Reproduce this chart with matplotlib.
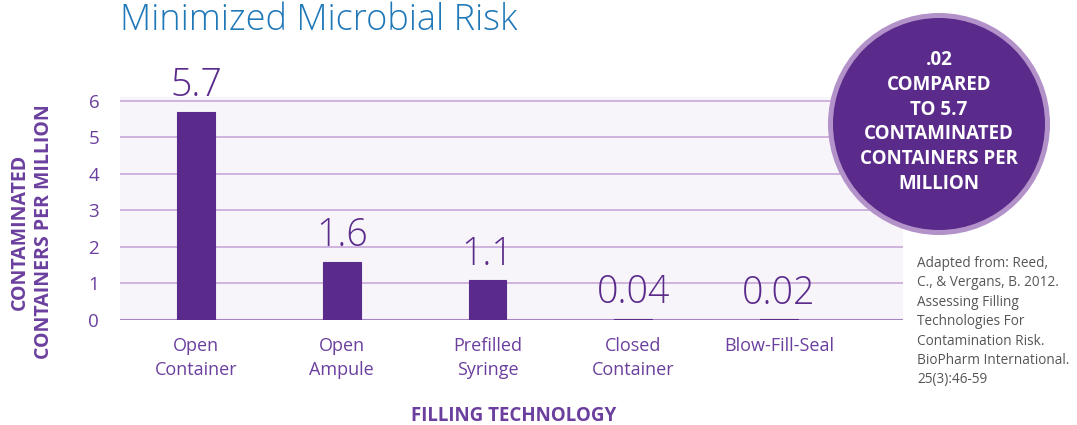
import matplotlib
matplotlib.use("Agg")
import matplotlib.pyplot as plt
from matplotlib.patches import Ellipse

categories = ["Open\nContainer", "Open\nAmpule", "Prefilled\nSyringe", "Closed\nContainer", "Blow-Fill-Seal"]
values = [5.7, 1.6, 1.1, 0.04, 0.02]
value_labels = ["5.7", "1.6", "1.1", "0.04", "0.02"]
yticks = [0, 1, 2, 3, 4, 5, 6]

W, H = 1077, 425
fig = plt.figure(figsize=(W / 100, H / 100), dpi=100)
plt.rcParams['font.family'] = ['Open Sans', 'DejaVu Sans']

PURPLE = "#5b2b8c"
TEXTP = "#6b3f9e"
GRID = "#c7a9d9"

def fx(px):
    return px / W

def fy(py):
    return 1 - py / H

ax = fig.add_axes([fx(120), fy(320), fx(903) - fx(120), fy(97) - fy(320)])
ax.set_facecolor("#f7f5fa")
x = list(range(len(categories)))
ax.bar(x, values, width=0.26, color=PURPLE, edgecolor=PURPLE, linewidth=0.8, zorder=3)
ax.set_xlim(-0.521, 4.851)
ax.set_ylim(0, 6.1)
ax.set_yticks(yticks)
ax.set_yticklabels([str(t) for t in yticks], fontsize=13.5, color=TEXTP)
ax.set_xticks(x)
ax.set_xticklabels(categories, fontsize=13, color=TEXTP, linespacing=1.45, va="top")
ax.tick_params(length=0, pad=15, axis="y")
ax.tick_params(length=0, pad=12, axis="x")
for t in yticks[1:]:
    ax.axhline(t, color=GRID, lw=1.2, zorder=1)
ax.axhline(0, color="#a583c4", lw=1.5, zorder=2)
for s in ax.spines.values():
    s.set_visible(False)

for xi, v, lab in zip(x, values, value_labels):
    ax.annotate(lab, (xi, v), xytext=(0, 11), textcoords="offset points",
                ha="center", va="baseline", fontsize=27,
                color=PURPLE, fontweight="light")

fig.text(fx(120), fy(2), "Minimized Microbial Risk", ha="left", va="top",
         fontsize=26, color="#1f78b8", fontweight="light")

fig.text(fx(32), fy(232), "CONTAMINATED\nCONTAINERS PER MILLION", rotation=90,
         ha="center", va="center", fontsize=14, fontweight="bold", color=TEXTP,
         linespacing=1.25)

fig.text(fx(514), fy(416), "FILLING TECHNOLOGY", ha="center", va="center",
         fontsize=13.5, fontweight="bold", color=TEXTP)

circ_outer = Ellipse((fx(939), fy(124)), 2 * 111 / W, 2 * 111 / H,
                     transform=fig.transFigure, facecolor="#b391c9", edgecolor="none", zorder=5)
circ_inner = Ellipse((fx(939), fy(124)), 2 * 106 / W, 2 * 106 / H,
                     transform=fig.transFigure, facecolor=PURPLE, edgecolor="none", zorder=6)
fig.patches.extend([circ_outer, circ_inner])
fig.text(fx(939), fy(122), ".02\nCOMPARED\nTO 5.7\nCONTAMINATED\nCONTAINERS PER\nMILLION",
         ha="center", va="center", fontsize=13.5, fontweight="bold", color="white",
         linespacing=1.32, zorder=7)

fig.text(fx(917), fy(256), "Adapted from: Reed,\nC., & Vergans, B. 2012.\nAssessing Filling\nTechnologies For\nContamination Risk.\nBioPharm International.\n25(3):46-59",
         ha="left", va="top", fontsize=9.8, color="#555555", linespacing=1.4)

fig.savefig("out.png", dpi=100)
